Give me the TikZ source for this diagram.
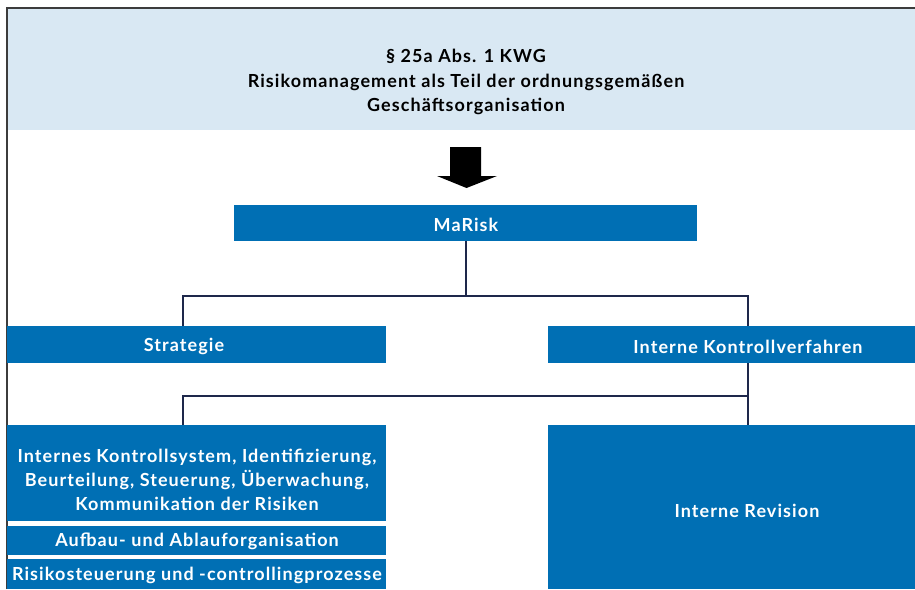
\documentclass[tikz,border=0pt]{standalone}
\usepackage{fontspec}
\setmainfont[LetterSpace=6]{Lato}
\definecolor{boxblue}{RGB}{0,111,180}
\definecolor{bandblue}{RGB}{217,232,243}
\definecolor{linenavy}{RGB}{30,40,75}
\definecolor{framegray}{RGB}{60,60,60}
\tikzset{
  bbox/.style={fill=boxblue, draw=none, inner sep=0pt},
  wtext/.style={text=white, font=\bfseries\fontsize{18}{24}\selectfont, inner sep=0pt, align=center},
  htext/.style={text=black, font=\bfseries\fontsize{18}{24.5}\selectfont, inner sep=0pt, align=center},
  conn/.style={draw=linenavy, line width=2pt},
}
\begin{document}
\begin{tikzpicture}[x=1pt,y=-1pt]
\useasboundingbox (0,0) rectangle (915,589);
% header band and frame
\fill[bandblue] (8,9) rectangle (915,130);
\draw[framegray, line width=1.5pt] (7,589) -- (7,8) -- (915,8);
\node[htext] (head) at (466,82) {§ 25a Abs. 1 KWG\\Risikomanagement als Teil der ordnungsgemäßen\\Geschäftsorganisation};
% arrow
\fill[black] (450,147) -- (481,147) -- (481,176) -- (497,176) -- (466.5,188) -- (437,176) -- (450,176) -- cycle;
% boxes
\node[bbox, minimum width=463pt, minimum height=36pt] (marisk) at (465.5,223) {};
\node[wtext] at (466,224.5) {MaRisk};
\node[bbox, minimum width=379pt, minimum height=37pt] (strat) at (196.5,344.5) {};
\node[wtext] at (184,346.5) {Strategie};
\node[bbox, minimum width=367pt, minimum height=37pt] (ikv) at (731.5,344.5) {};
\node[wtext] at (748,346.5) {Interne Kontrollverfahren};
\node[bbox, minimum width=379pt, minimum height=96pt] (box1) at (196.5,473) {};
\node[wtext] at (197,479.5) {Internes Kontrollsystem, Identifizierung,\\Beurteilung, Steuerung, Überwachung,\\Kommunikation der Risiken};
\node[bbox, minimum width=379pt, minimum height=29pt] (aufbau) at (196.5,540.5) {};
\node[wtext] at (197,541.5) {Aufbau- und Ablauforganisation};
\node[bbox, minimum width=379pt, minimum height=30pt] (risk) at (196.5,574) {};
\node[wtext] at (197,575.5) {Risikosteuerung und -controllingprozesse};
\node[bbox, minimum width=367pt, minimum height=164pt] (rev) at (731.5,507) {};
\node[wtext] at (747,510.5) {Interne Revision};
% connectors
\coordinate (busL) at (183,296);
\coordinate (busR) at (748,296);
\coordinate (bus2L) at (183,396);
\coordinate (bus2R) at (748,396);
\draw[conn] (marisk.south) -- (marisk.south |- busL);
\draw[conn] (strat.north -| busL) -- (busL) -- (busR) -- (ikv.north -| busR);
\draw[conn] (ikv.south -| bus2R) -- (rev.north -| bus2R);
\draw[conn] (bus2R) -- (bus2L) -- (box1.north -| bus2L);
\end{tikzpicture}
\end{document}
